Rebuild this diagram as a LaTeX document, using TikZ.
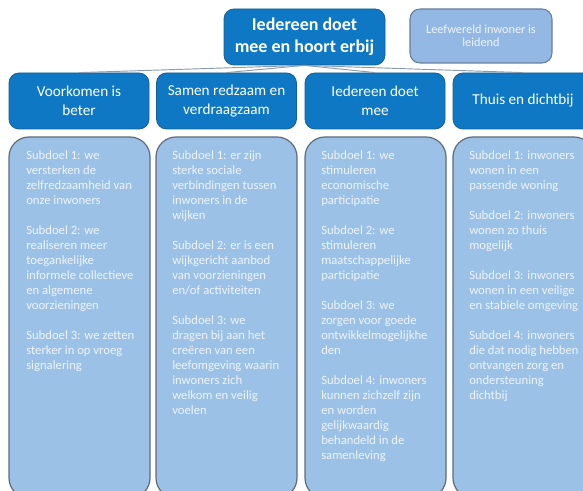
\documentclass[tikz,border=0pt]{standalone}
\usepackage{fontspec}
\setmainfont{Carlito}
\definecolor{dblue}{RGB}{14,120,196}
\definecolor{dblueline}{RGB}{20,95,150}
\definecolor{lblue}{RGB}{155,193,230}
\definecolor{lbline}{RGB}{95,108,125}
\definecolor{leefblue}{RGB}{147,184,228}
\definecolor{leefline}{RGB}{105,125,155}
\definecolor{txtlight}{RGB}{238,244,250}
\definecolor{conn}{RGB}{140,155,175}
\tikzset{
  topbox/.style={fill=dblue, draw=dblueline, line width=0.6pt, rounded corners=7.5pt,
    minimum width=120.75pt, minimum height=42pt, inner sep=0pt, align=center,
    text=white, font=\fontsize{13.5}{16.5}\selectfont\bfseries},
  leefbox/.style={fill=leefblue, draw=leefline, line width=0.8pt, rounded corners=7.5pt,
    minimum width=106.5pt, minimum height=40.5pt, inner sep=0pt, align=center,
    text=txtlight, font=\fontsize{9.2}{10}\selectfont},
  headbox/.style={fill=dblue, draw=dblueline, line width=0.6pt, rounded corners=7.5pt,
    minimum width=105pt, minimum height=42pt, inner sep=0pt, align=center,
    text=white, font=\fontsize{11.4}{14}\selectfont},
  subbox/.style={fill=lblue, draw=lbline, line width=0.9pt, rounded corners=15pt,
    minimum width=105.75pt, minimum height=270.75pt, inner sep=0pt},
  subtext/.style={anchor=north west, inner sep=0pt, align=left, text=txtlight,
    font=\fontsize{9.5}{11.25}\selectfont},
  connline/.style={draw=conn, line width=0.7pt}
}
\begin{document}
\begin{tikzpicture}[x=0.75pt, y=-0.75pt]
\useasboundingbox (0,0) rectangle (583,491);
\clip (0,0) rectangle (583,491);
\fill[white] (0,0) rectangle (583,491);

% top level
\node[topbox] (top) at (304.5,37) {Iedereen doet\\mee en hoort erbij};
\node[leefbox] (leef) at (481,36) {Leefwereld inwoner is\\leidend};

% headers
\node[headbox] (h1) at (79,101) {Voorkomen is\\beter};
\node[headbox] (h2) at (226.5,101) {Samen redzaam en\\verdraagzaam};
\node[headbox] (h3) at (375,101) {Iedereen doet\\mee};
\node[headbox] (h4) at (523,101) {Thuis en dichtbij};

% connectors
\draw[connline] (top.south) -- (h1.north);
\draw[connline] (top.south) -- (h2.north);
\draw[connline] (top.south) -- (h3.north);
\draw[connline] (top.south) -- (h4.north);

% sub boxes
\node[subbox] (s1) at (79.5,317.5) {};
\node[subbox] (s2) at (226.5,317.5) {};
\node[subbox] (s3) at (375.5,317.5) {};
\node[subbox] (s4) at (523.5,317.5) {};

\node[subtext] (t1) at (26,150) {Subdoel 1: we\\versterken de\\zelfredzaamheid van\\onze inwoners\\[11.25pt]
Subdoel 2: we\\realiseren meer\\toegankelijke\\informele collectieve\\en algemene\\voorzieningen\\[11.25pt]
Subdoel 3: we zetten\\sterker in op vroeg\\signalering};

\node[subtext] (t2) at (172,150) {Subdoel 1: er zijn\\sterke sociale\\verbindingen tussen\\inwoners in de\\wijken\\[11.25pt]
Subdoel 2: er is een\\wijkgericht aanbod\\van voorzieningen\\en/of activiteiten\\[11.25pt]
Subdoel 3: we\\dragen bij aan het\\creëren van een\\leefomgeving waarin\\inwoners zich\\welkom en veilig\\voelen};

\node[subtext] (t3) at (321,150) {Subdoel 1: we\\stimuleren\\economische\\participatie\\[11.25pt]
Subdoel 2: we\\stimuleren\\maatschappelijke\\participatie\\[11.25pt]
Subdoel 3: we\\zorgen voor goede\\ontwikkelmogelijkhe\\den\\[11.25pt]
Subdoel 4: inwoners\\kunnen zichzelf zijn\\en worden\\gelijkwaardig\\behandeld in de\\samenleving};

\node[subtext] (t4) at (469,150) {Subdoel 1: inwoners\\wonen in een\\passende woning\\[11.25pt]
Subdoel 2: inwoners\\wonen zo thuis\\mogelijk\\[11.25pt]
Subdoel 3: inwoners\\wonen in een veilige\\en stabiele omgeving\\[11.25pt]
Subdoel 4: inwoners\\die dat nodig hebben\\ontvangen zorg en\\ondersteuning\\dichtbij};
\end{tikzpicture}
\end{document}
